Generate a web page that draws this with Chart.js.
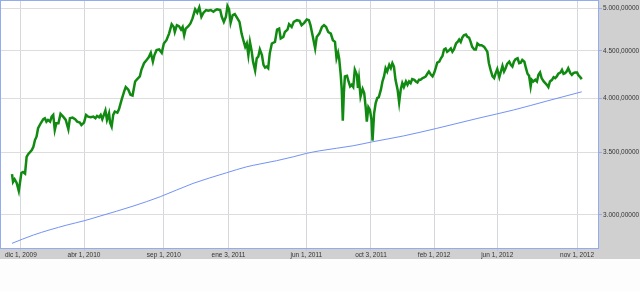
<!DOCTYPE html>
<html>
<head>
<meta charset="utf-8">
<script src="https://cdn.jsdelivr.net/npm/chart.js@4.4.1/dist/chart.umd.min.js"></script>
<style>
  html, body { margin: 0; padding: 0; background: #fcfdfc; }
  #wrap { width: 640px; height: 291px; }
</style>
</head>
<body>
<div id="wrap"><canvas id="indexChart" width="640" height="291"></canvas></div>
<script>
// days counted from dic 1, 2009
const indexDays = [-17,-15,-12,-8,-4,-1,1,4,8,11,14,21,24,27,30,33,38,43,46,49,52,56,59,62,65,68,72,76,81,86,91,94,99,104,108,113,116,121,125,129,134,139,143,146,150,153,156,159,162,165,169,171,174,177,180,185,188,193,198,201,206,210,214,219,223,228,231,236,241,245,249,253,256,260,265,270,274,279,284,289,293,295,299,303,307,310,313,316,321,325,329,334,338,342,346,350,355,359,364,369,373,376,382,385,389,393,396,399,402,406,410,415,419,423,426,430,433,436,439,442,445,449,452,455,458,462,465,468,471,474,477,481,487,491,495,498,503,506,511,514,519,523,529,534,538,543,548,552,555,559,564,567,572,577,581,585,589,594,598,602,605,608,610,613,615,617,619,621,625,628,631,634,637,640,644,646,648,651,655,658,661,663,666,669,672,674,677,680,683,686,690,693,696,699,702,706,709,712,715,718,722,725,728,731,734,738,741,744,747,750,754,757,760,763,766,770,773,776,779,782,786,789,792,795,798,802,805,808,811,814,817,821,824,827,830,834,837,840,843,846,849,853,856,859,862,865,869,872,875,879,883,888,892,894,897,901,904,907,910,913,917,920,923,926,929,932,936,939,942,945,948,952,955,958,961,965,968,971,974,977,979,982,986,989,992,995,998,1002,1005,1008,1011,1014,1018,1021,1024,1027,1030,1034,1037,1040,1043,1046,1049,1053,1056,1059,1062,1066,1068,1072,1075];
const indexValues = [3318,3255,3277,3247,3183,3269,3328,3336,3323,3463,3486,3521,3550,3609,3639,3716,3762,3800,3809,3777,3793,3777,3824,3840,3700,3762,3762,3850,3824,3793,3707,3809,3815,3800,3777,3768,3746,3768,3840,3824,3818,3824,3809,3831,3818,3840,3800,3840,3882,3793,3856,3768,3731,3840,3872,3862,3894,3986,4070,4114,4087,4036,4029,4171,4195,4223,4293,4363,4398,4427,4477,4380,4452,4506,4514,4477,4581,4618,4694,4804,4772,4713,4793,4781,4741,4772,4675,4753,4781,4813,4873,4984,4942,5009,4893,4942,4975,4967,4975,4954,4975,4984,4975,4893,4832,4893,5025,4984,4820,4914,4926,4873,4832,4694,4626,4543,4581,4452,4599,4506,4380,4285,4416,4434,4514,4452,4345,4317,4327,4310,4471,4581,4599,4741,4753,4637,4655,4713,4741,4804,4772,4832,4852,4844,4793,4820,4861,4852,4793,4675,4525,4655,4694,4772,4793,4772,4713,4694,4618,4599,4416,4477,4416,4240,4087,3787,4053,4223,4230,4171,4120,4137,4114,4293,4240,4104,4195,4019,4094,4053,3905,3777,3914,3888,3793,3603,3856,3954,4003,4013,4087,4171,4223,4310,4275,4345,4310,4363,4327,4188,4087,3960,4087,4154,4114,4171,4137,4171,4154,4195,4188,4171,4160,4188,4188,4206,4212,4223,4251,4275,4240,4223,4258,4310,4369,4380,4416,4441,4514,4525,4488,4506,4525,4488,4514,4581,4599,4626,4599,4648,4675,4683,4655,4648,4599,4543,4514,4514,4581,4562,4562,4543,4506,4488,4363,4275,4223,4206,4258,4300,4216,4275,4335,4275,4310,4356,4380,4345,4327,4380,4405,4416,4363,4369,4398,4380,4310,4251,4230,4120,4188,4171,4188,4171,4240,4264,4206,4171,4154,4137,4114,4171,4188,4216,4206,4223,4251,4264,4293,4251,4258,4275,4310,4258,4240,4258,4264,4264,4240,4216,4195];

const trendDays = [-17,24,88,121,152,215,267,330,394,433,458,490,522,548,573,637,674,733,797,880,944,1008,1075];
const trendValues = [2797,2855,2926,2957,2992,3066,3138,3243,3329,3379,3402,3430,3463,3493,3515,3559,3594,3646,3715,3813,3887,3974,4066];

const tickDays = [0,121,274,398,547,671,792,913,1066];
const tickLabels = ['dic 1, 2009','abr 1, 2010','sep 1, 2010','ene 3, 2011','jun 1, 2011','oct 3, 2011','feb 1, 2012','jun 1, 2012','nov 1, 2012'];
const yTicks = [3000, 3500, 4000, 4500, 5000];

function formatValue(v) {
  const s = String(Math.round(v));
  return s.replace(/\B(?=(\d{3})+(?!\d))/g, '.') + ',00000';
}

// gray frame + blue border round the plot
const framePlugin = {
  id: 'frame',
  beforeDraw(chart) {
    const { ctx, chartArea: a, width, height } = chart;
    ctx.save();
    ctx.fillStyle = '#fcfdfc';
    ctx.fillRect(0, 0, width, height);
    ctx.fillStyle = '#d0d0d0';
    ctx.fillRect(a.right, 0, width - a.right, a.bottom + 11);
    ctx.fillRect(0, a.bottom, width, 11);
    ctx.fillStyle = '#ffffff';
    ctx.fillRect(a.left, a.top, a.right - a.left, a.bottom - a.top);
    ctx.restore();
  },
  afterDraw(chart) {
    const { ctx, chartArea: a } = chart;
    ctx.save();
    ctx.strokeStyle = '#93abef';
    ctx.lineWidth = 1;
    ctx.strokeRect(a.left + 0.5, a.top + 0.5, a.right - a.left - 1, a.bottom - a.top);
    ctx.restore();
  }
};

const ctx = document.getElementById('indexChart').getContext('2d');
new Chart(ctx, {
  type: 'line',
  data: {
    datasets: [
      {
        data: indexDays.map((d, i) => ({ x: d, y: indexValues[i] })),
        borderColor: '#118a11',
        borderWidth: 2.5,
        pointRadius: 0,
        tension: 0
      },
      {
        data: trendDays.map((d, i) => ({ x: d, y: trendValues[i] })),
        borderColor: '#7393f5',
        borderWidth: 1,
        pointRadius: 0,
        cubicInterpolationMode: 'monotone'
      }
    ]
  },
  options: {
    responsive: false,
    animation: false,
    layout: { padding: 0 },
    plugins: { legend: { display: false }, tooltip: { enabled: false } },
    scales: {
      x: {
        type: 'linear',
        min: -40,
        max: 1108,
        afterFit(scale) {
          scale.height = 43;
          scale.paddingLeft = 0;
          scale.paddingRight = 0;
        },
        afterBuildTicks(scale) { scale.ticks = tickDays.map(v => ({ value: v })); },
        grid: { color: '#d6d6de', lineWidth: 1, drawTicks: true, tickLength: 3, tickColor: '#b8c4ea' },
        border: { display: false },
        ticks: {
          autoSkip: false,
          maxRotation: 0,
          padding: 0,
          color: '#333333',
          font: { family: 'Liberation Sans', size: 6.5 },
          callback: v => tickLabels[tickDays.indexOf(v)]
        }
      },
      y: {
        type: 'logarithmic',
        position: 'right',
        min: 2765,
        max: 5100,
        afterFit(scale) {
          scale.width = 41;
          scale.paddingTop = 0;
          scale.paddingBottom = 0;
        },
        afterBuildTicks(scale) { scale.ticks = yTicks.map(v => ({ value: v })); },
        grid: { color: '#dddddd', lineWidth: 1, drawTicks: true, tickLength: 3, tickColor: '#93abef' },
        border: { display: false },
        ticks: {
          padding: 1,
          color: '#333333',
          font: { family: 'Liberation Sans', size: 6.5 },
          callback: v => formatValue(v)
        }
      }
    }
  },
  plugins: [framePlugin]
});
</script>
</body>
</html>
